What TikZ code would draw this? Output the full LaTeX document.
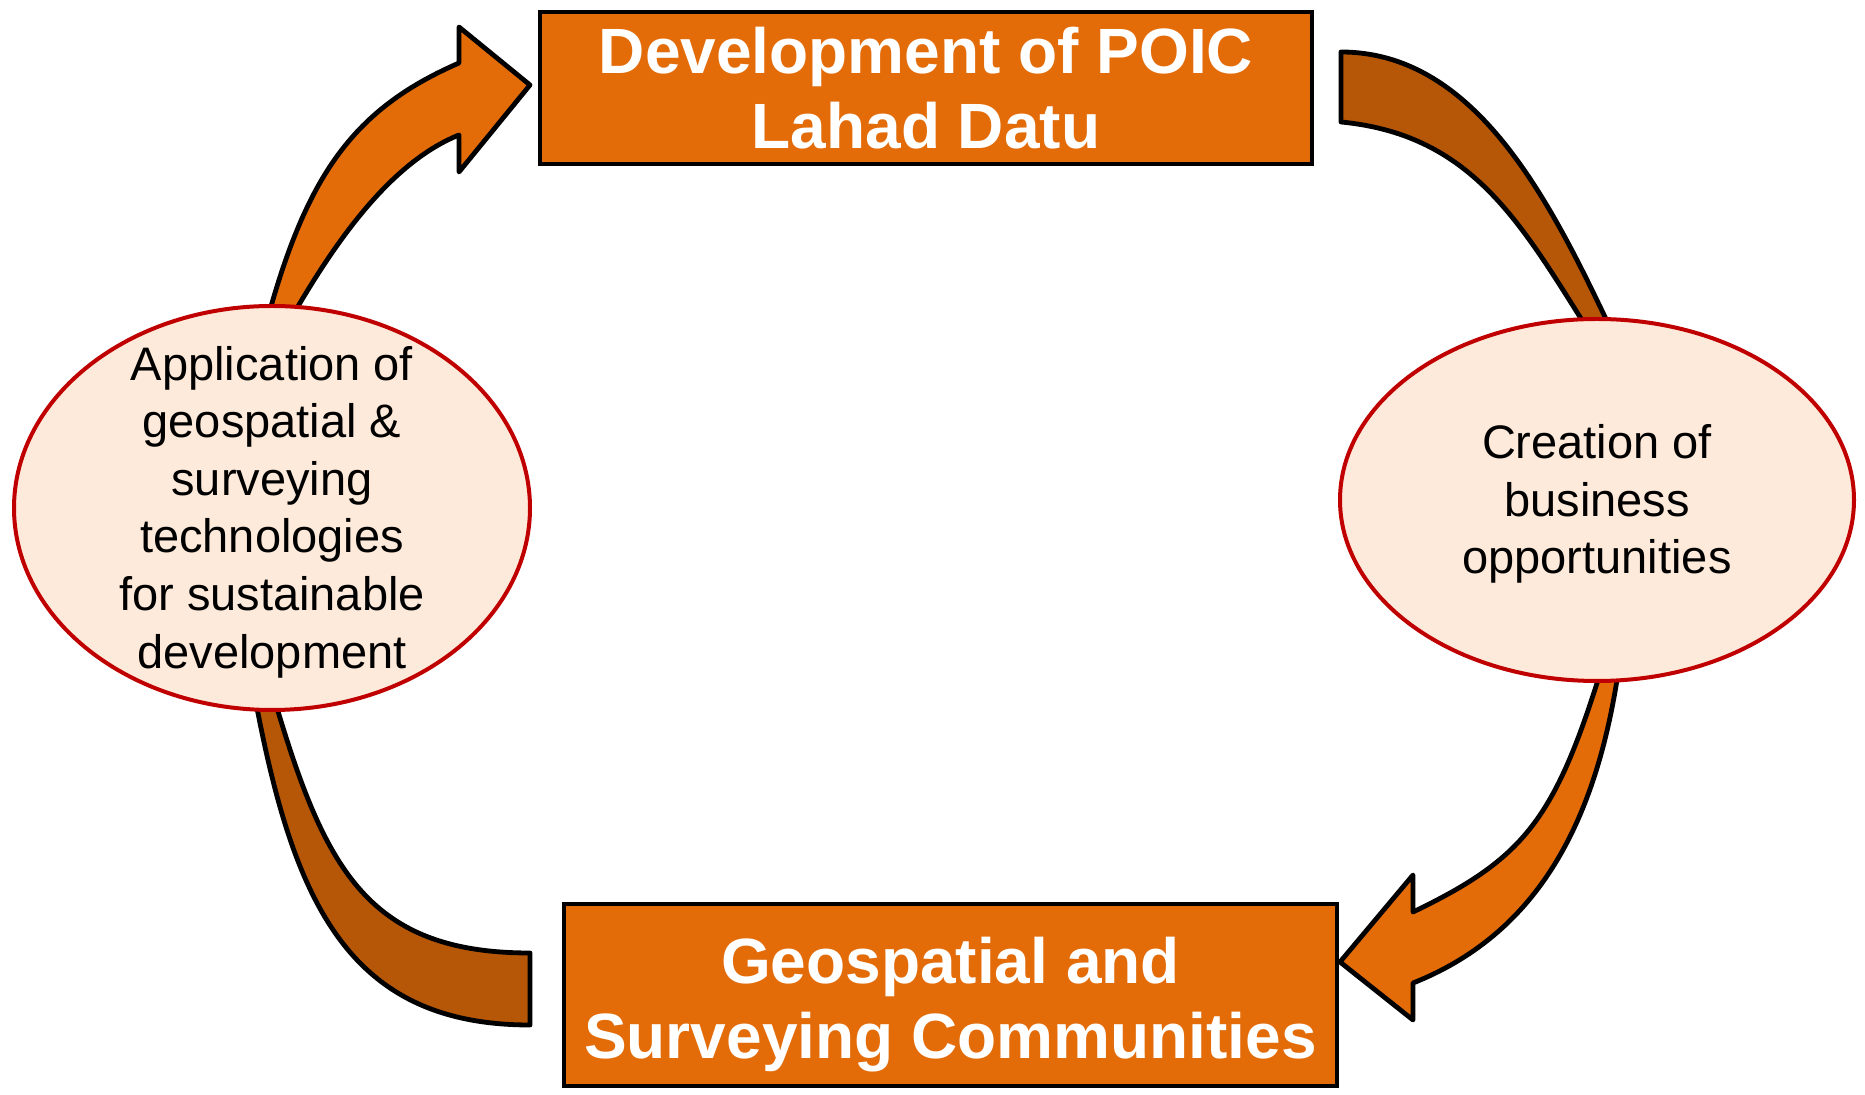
\documentclass[tikz,border=0pt]{standalone}
\usepackage{fontspec}
\setmainfont{Liberation Sans}
\usetikzlibrary{shapes.geometric}
\definecolor{boxorange}{HTML}{E36C09}
\definecolor{arrbrown}{HTML}{B65708}
\definecolor{ellfill}{HTML}{FDEADA}
\definecolor{ellline}{HTML}{C00000}
\tikzset{
  titlebox/.style={draw=black, fill=boxorange, line width=2pt, inner sep=0pt},
  titletext/.style={inner sep=0pt, align=center,
    text=white, font=\fontsize{32}{37.5}\selectfont\bfseries},
  oval/.style={ellipse, draw=ellline, fill=ellfill, line width=2pt, inner sep=0pt},
  ovaltext/.style={inner sep=0pt, align=center,
    text=black, font=\fontsize{23.5}{28.8}\selectfont},
  orangearrow/.style={draw=black, fill=boxorange, line width=2.4pt, line join=round},
  brownarrow/.style={draw=black, fill=arrbrown, line width=2.4pt, line join=round}
}
\begin{document}
\begin{tikzpicture}[x=0.5pt, y=-0.5pt]
\useasboundingbox (0,0) rectangle (1865,1095);
% block arrows
\path[orangearrow] (268,318) -- (272,303) .. controls (311,169) and (358,107) .. (459,63)
  -- (459,27) -- (530,85) -- (459,172) -- (459,135)
  .. controls (394,161) and (341,234) .. (300,303) -- (292,316) -- cycle;
\path[brownarrow] (1341,52) .. controls (1471,52) and (1545,191) .. (1605,317)
  -- (1611,330) -- (1588,330) -- (1580,317)
  .. controls (1516,215) and (1466,134) .. (1341,122) -- cycle;
\path[brownarrow] (254,693) -- (257,708) .. controls (295,904) and (350,1025) .. (530,1025)
  -- (530,953) .. controls (370,953) and (326,871) .. (277,708) -- (273,694) -- cycle;
\path[orangearrow] (1619,667) -- (1617,680) .. controls (1593,829) and (1534,935) .. (1413,983)
  -- (1413,1020) -- (1340,962) -- (1413,875) -- (1413,912)
  .. controls (1521,860) and (1553,822) .. (1598,680) -- (1602,666) -- cycle;
% ellipses
\node[oval, minimum width=258pt, minimum height=202pt] (app) at (272,508) {};
\node[ovaltext] (apptext) at ([yshift=-2pt]app.center)
  {Application of\\geospatial \&\\surveying\\technologies\\for sustainable\\development};
\node[oval, minimum width=257pt, minimum height=181pt] (biz) at (1597,500) {};
\node[ovaltext] (biztext) at ([yshift=-2pt]biz.center)
  {Creation of\\business\\opportunities};
% boxes
\node[titlebox, minimum width=386pt, minimum height=76pt] (poic) at (926,88) {};
\node[titletext] (poictext) at (poic.center) {Development of POIC\\Lahad Datu};
\node[titlebox, minimum width=386.5pt, minimum height=91pt] (geo) at (950.5,995) {};
\node[titletext] (geotext) at ([yshift=-5pt]geo.center) {Geospatial and\\Surveying Communities};
\end{tikzpicture}
\end{document}
